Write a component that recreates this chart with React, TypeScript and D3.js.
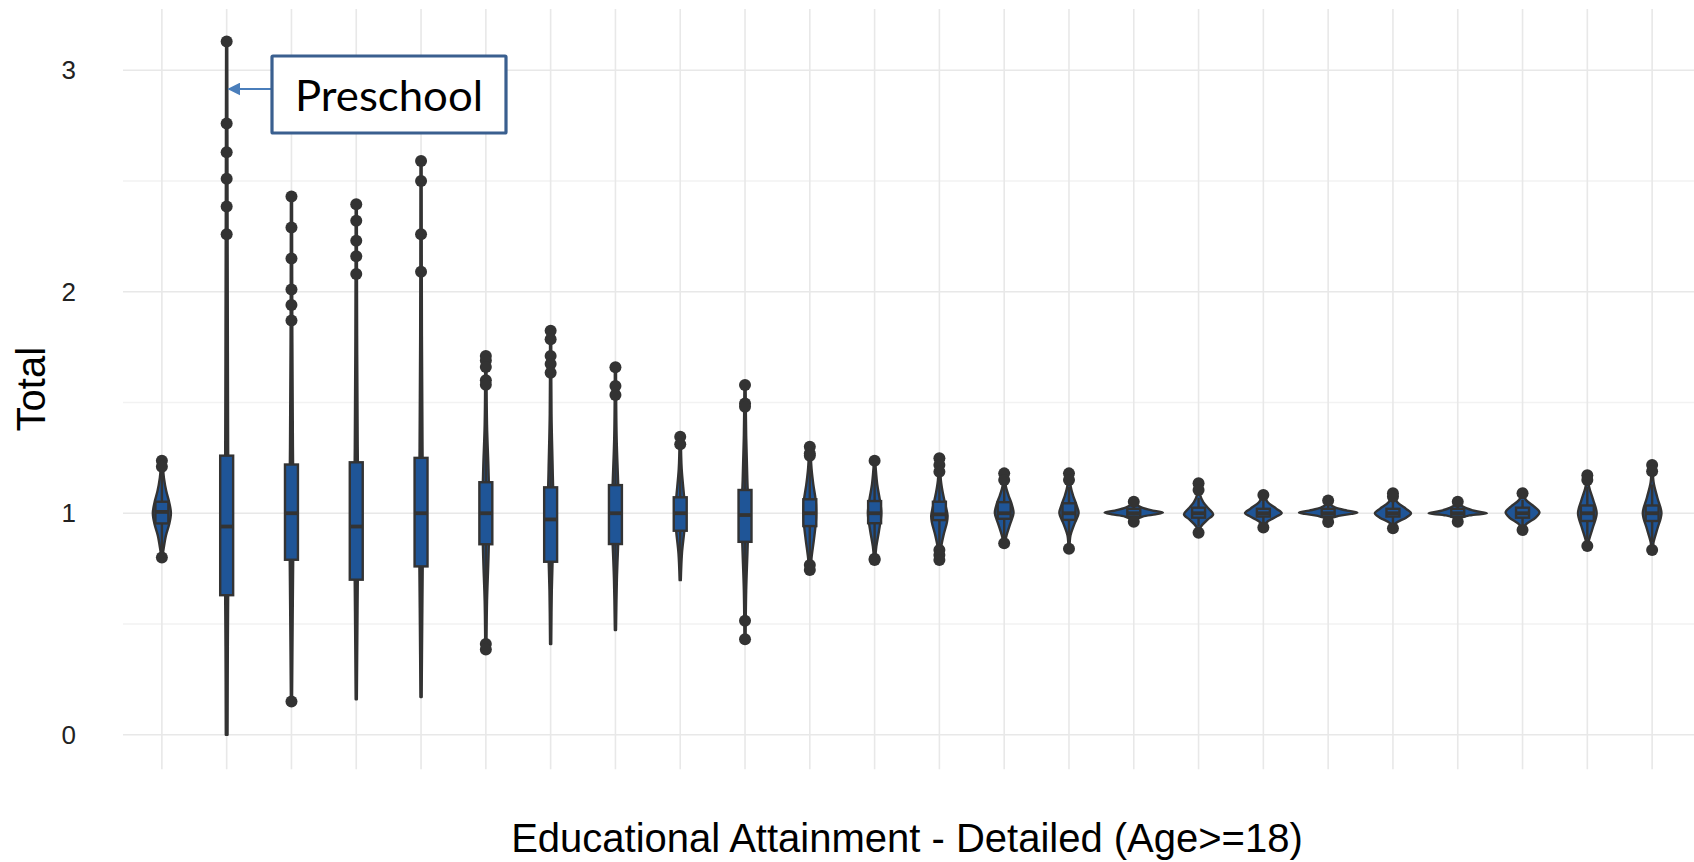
import * as d3 from "d3";

// ACS detailed educational attainment (24 levels); axis shows no tick labels
const categories = [
  "No schooling", "Preschool", "Kindergarten", "Grade 1", "Grade 2", "Grade 3",
  "Grade 4", "Grade 5", "Grade 6", "Grade 7", "Grade 8", "Grade 9",
  "Grade 10", "Grade 11", "Grade 12 no diploma", "High school diploma", "GED",
  "College <1 yr", "College 1+ yrs", "Associate", "Bachelor", "Master",
  "Professional", "Doctorate",
];

const q1 = [0.954, 0.63, 0.79, 0.70, 0.76, 0.86, 0.781, 0.861, 0.921, 0.871, 0.942, 0.955,
  0.969, 0.975, 0.97, 0.985, 0.98, 0.985, 0.985, 0.985, 0.985, 0.98, 0.965, 0.965];
const medians = [1.006, 0.94, 1.0, 0.94, 1.0, 1.0, 0.972, 1.0, 1.0, 0.992, 1.0, 1.0,
  0.995, 1.0, 1.0, 1.0, 1.0, 1.0, 1.0, 1.0, 1.0, 1.0, 1.0, 1.0];
const q3 = [1.052, 1.26, 1.22, 1.23, 1.25, 1.14, 1.117, 1.127, 1.072, 1.105, 1.063, 1.055,
  1.052, 1.05, 1.045, 1.02, 1.025, 1.02, 1.02, 1.02, 1.02, 1.025, 1.035, 1.035];
const whiskerLow = [0.82, 0.0, 0.2, 0.16, 0.17, 0.45, 0.41, 0.473, 0.698, 0.53, 0.77, 0.81,
  0.85, 0.87, 0.87, 0.97, 0.94, 0.955, 0.965, 0.955, 0.965, 0.95, 0.88, 0.87];
const whiskerHigh = [1.19, 2.2, 1.84, 2.0, 1.98, 1.55, 1.6, 1.52, 1.29, 1.45, 1.24, 1.2,
  1.17, 1.13, 1.12, 1.04, 1.07, 1.06, 1.04, 1.06, 1.04, 1.06, 1.12, 1.13];

const outliers: number[][] = [
  [1.237, 1.21, 0.80],
  [3.13, 2.76, 2.63, 2.51, 2.385, 2.26],
  [2.43, 2.29, 2.15, 2.01, 1.94, 1.87, 0.15],
  [2.395, 2.32, 2.23, 2.16, 2.08],
  [2.59, 2.50, 2.26, 2.09],
  [1.71, 1.69, 1.66, 1.60, 1.58, 0.41, 0.385],
  [1.824, 1.785, 1.71, 1.674, 1.634],
  [1.659, 1.574, 1.534],
  [1.345, 1.312],
  [1.579, 1.496, 1.481, 0.515, 0.431],
  [1.30, 1.27, 1.26, 0.766, 0.744],
  [1.237, 0.795, 0.789],
  [1.248, 1.218, 1.187, 0.834, 0.811, 0.789],
  [1.18, 1.15, 0.864],
  [1.18, 1.15, 0.84],
  [1.052, 0.962],
  [1.135, 1.105, 0.912],
  [1.082, 0.936],
  [1.058, 0.96],
  [1.09, 1.075, 0.932],
  [1.052, 0.962],
  [1.09, 0.924],
  [1.172, 1.15, 0.852],
  [1.218, 1.19, 0.834],
];

// violin outlines: [value, relative density]
const violins: [number, number][][] = [
  [[0.80, 0.02], [0.84, 0.06], [0.90, 0.14], [0.95, 0.25], [1.0, 0.31], [1.05, 0.25], [1.10, 0.15], [1.16, 0.07], [1.20, 0.04], [1.237, 0.02]],
  [[0.0, 0.03], [0.4, 0.04], [0.8, 0.06], [1.0, 0.06], [1.3, 0.05], [1.8, 0.04], [2.4, 0.03], [3.13, 0.02]],
  [[0.15, 0.02], [0.5, 0.04], [0.8, 0.06], [1.0, 0.07], [1.3, 0.05], [1.8, 0.03], [2.43, 0.02]],
  [[0.16, 0.02], [0.5, 0.04], [0.8, 0.06], [1.0, 0.07], [1.3, 0.05], [1.8, 0.03], [2.395, 0.02]],
  [[0.17, 0.02], [0.5, 0.04], [0.8, 0.06], [1.0, 0.07], [1.3, 0.05], [1.8, 0.03], [2.59, 0.02]],
  [[0.385, 0.02], [0.6, 0.04], [0.8, 0.09], [1.0, 0.12], [1.2, 0.09], [1.4, 0.04], [1.71, 0.02]],
  [[0.41, 0.02], [0.65, 0.04], [0.85, 0.08], [1.0, 0.1], [1.2, 0.07], [1.45, 0.03], [1.824, 0.02]],
  [[0.473, 0.02], [0.7, 0.05], [0.88, 0.1], [1.0, 0.13], [1.15, 0.09], [1.35, 0.04], [1.659, 0.02]],
  [[0.698, 0.02], [0.82, 0.06], [0.92, 0.14], [1.0, 0.18], [1.08, 0.13], [1.2, 0.05], [1.345, 0.02]],
  [[0.431, 0.02], [0.65, 0.04], [0.85, 0.09], [1.0, 0.12], [1.15, 0.08], [1.35, 0.04], [1.579, 0.02]],
  [[0.744, 0.02], [0.80, 0.06], [0.88, 0.14], [0.95, 0.2], [1.0, 0.22], [1.06, 0.2], [1.13, 0.12], [1.2, 0.06], [1.30, 0.02]],
  [[0.789, 0.02], [0.85, 0.06], [0.92, 0.15], [1.0, 0.23], [1.06, 0.18], [1.13, 0.09], [1.2, 0.04], [1.237, 0.02]],
  [[0.789, 0.02], [0.84, 0.05], [0.90, 0.14], [0.96, 0.26], [0.99, 0.28], [1.03, 0.22], [1.09, 0.12], [1.15, 0.05], [1.248, 0.02]],
  [[0.864, 0.02], [0.90, 0.08], [0.95, 0.2], [1.0, 0.32], [1.04, 0.26], [1.08, 0.15], [1.12, 0.06], [1.18, 0.02]],
  [[0.84, 0.02], [0.90, 0.05], [0.95, 0.18], [1.0, 0.33], [1.04, 0.25], [1.08, 0.14], [1.12, 0.06], [1.18, 0.02]],
  [[0.952, 0.01], [0.97, 0.08], [0.985, 0.3], [0.995, 0.75], [1.003, 1.0], [1.012, 0.65], [1.025, 0.28], [1.04, 0.08], [1.052, 0.01]],
  [[0.912, 0.02], [0.94, 0.08], [0.97, 0.3], [0.995, 0.5], [1.02, 0.35], [1.05, 0.16], [1.08, 0.06], [1.135, 0.02]],
  [[0.936, 0.02], [0.96, 0.12], [0.985, 0.45], [1.0, 0.63], [1.02, 0.45], [1.05, 0.15], [1.082, 0.02]],
  [[0.96, 0.01], [0.975, 0.08], [0.988, 0.35], [0.997, 0.8], [1.003, 1.0], [1.012, 0.65], [1.025, 0.25], [1.04, 0.07], [1.058, 0.01]],
  [[0.932, 0.02], [0.955, 0.1], [0.98, 0.45], [1.0, 0.62], [1.02, 0.45], [1.05, 0.15], [1.09, 0.02]],
  [[0.962, 0.01], [0.975, 0.08], [0.99, 0.4], [1.0, 1.0], [1.01, 0.6], [1.025, 0.25], [1.04, 0.07], [1.052, 0.01]],
  [[0.924, 0.02], [0.95, 0.12], [0.98, 0.45], [1.005, 0.58], [1.03, 0.4], [1.06, 0.12], [1.09, 0.02]],
  [[0.852, 0.02], [0.88, 0.06], [0.94, 0.2], [1.0, 0.32], [1.06, 0.2], [1.12, 0.06], [1.172, 0.02]],
  [[0.834, 0.02], [0.87, 0.05], [0.93, 0.18], [1.0, 0.32], [1.07, 0.18], [1.14, 0.05], [1.218, 0.02]],
];

const majorTicks = [0, 1, 2, 3];
const minorTicks = [0.5, 1.5, 2.5];

const W = 1694;
const H = 862;
const FILL = "#1f5597";
const DARK = "#333333";

export default function App() {
  const x = d3.scalePoint<string>().domain(categories).range([123, 1691]).padding(0.6);
  const step = x.step();
  const y = d3.scaleLinear().domain([-0.156, 3.276]).range([769.3, 9.1]);
  const w = d3.scaleLinear().domain([0, 1]).range([0, step * 0.45]);
  const boxW = step * 0.2;

  const violinPath = (profile: [number, number][], cx: number) =>
    d3.area<[number, number]>()
      .y(d => y(d[0]))
      .x0(d => cx - w(d[1]))
      .x1(d => cx + w(d[1]))
      .curve(d3.curveCatmullRom.alpha(0.5))(profile) || "";

  const [left, right] = x.range();
  const [bottom, top] = y.range();

  return (
    <div style={{ position: "absolute", left: 0, top: 0 }}>
      <svg width={W} height={H} style={{ display: "block", background: "#fff" }}>
        <defs>
          <marker id="arr" viewBox="0 0 10 10" refX="9" refY="5" markerWidth="6.5" markerHeight="6.5" orient="auto-start-reverse">
            <path d="M0,0 L10,5 L0,10 z" fill="#4a7ebb" />
          </marker>
        </defs>

        {/* grid */}
        {minorTicks.map(t => (
          <line key={"mi" + t} x1={left} x2={right + 3} y1={y(t)} y2={y(t)} stroke="#f2f2f2" strokeWidth={1.3} />
        ))}
        {majorTicks.map(t => (
          <line key={"ma" + t} x1={left} x2={right + 3} y1={y(t)} y2={y(t)} stroke="#e8e8e8" strokeWidth={1.6} />
        ))}
        {categories.map(c => (
          <line key={"v" + c} x1={x(c)} x2={x(c)} y1={top} y2={bottom} stroke="#e8e8e8" strokeWidth={1.6} />
        ))}

        {/* y tick labels */}
        {majorTicks.map(t => (
          <text key={"t" + t} x={76} y={y(t)} dy="0.35em" textAnchor="end"
            fontFamily="'Liberation Sans', Arial, sans-serif" fontSize={26} fill="#222">{t}</text>
        ))}

        {/* violins */}
        {categories.map((c, i) => (
          <path key={"vi" + c} d={violinPath(violins[i], x(c)!)} fill={FILL} stroke={DARK} strokeWidth={2.4} strokeLinejoin="round" />
        ))}

        {/* boxplots */}
        {categories.map((c, i) => {
          const cx = x(c)!;
          return (
            <g key={"b" + c}>
              <line x1={cx} x2={cx} y1={y(q3[i])} y2={y(whiskerHigh[i])} stroke={DARK} strokeWidth={2.4} />
              <line x1={cx} x2={cx} y1={y(q1[i])} y2={y(whiskerLow[i])} stroke={DARK} strokeWidth={2.4} />
              <rect x={cx - boxW / 2} width={boxW} y={y(q3[i])} height={y(q1[i]) - y(q3[i])}
                fill={FILL} stroke={DARK} strokeWidth={2.4} />
              <line x1={cx - boxW / 2} x2={cx + boxW / 2} y1={y(medians[i])} y2={y(medians[i])} stroke={DARK} strokeWidth={3.8} />
              {outliers[i].map((v, j) => (
                <circle key={j} cx={cx} cy={y(v)} r={6} fill={DARK} />
              ))}
            </g>
          );
        })}

        {/* annotation */}
        <line x1={272} y1={89} x2={x("Preschool")! + 2} y2={89} stroke="#4a7ebb" strokeWidth={2} markerEnd="url(#arr)" />
        <rect x={272} y={56} width={234} height={77} fill="#fff" stroke="#3a5f8f" strokeWidth={3.2} rx={1} />
        <text x={389} y={111} textAnchor="middle" fontFamily="Lato, 'Open Sans', sans-serif" fontSize={43}
          textLength={188} lengthAdjust="spacingAndGlyphs" fill="#000">Preschool</text>

        {/* axis titles */}
        <text transform={`translate(45, ${(top + bottom) / 2}) rotate(-90)`} textAnchor="middle"
          fontFamily="'Liberation Sans', Arial, sans-serif" fontSize={40} fill="#000">Total</text>
        <text x={(left + right) / 2} y={852} textAnchor="middle"
          fontFamily="'Liberation Sans', Arial, sans-serif" fontSize={40} fill="#000">Educational Attainment - Detailed (Age&gt;=18)</text>
      </svg>
    </div>
  );
}
